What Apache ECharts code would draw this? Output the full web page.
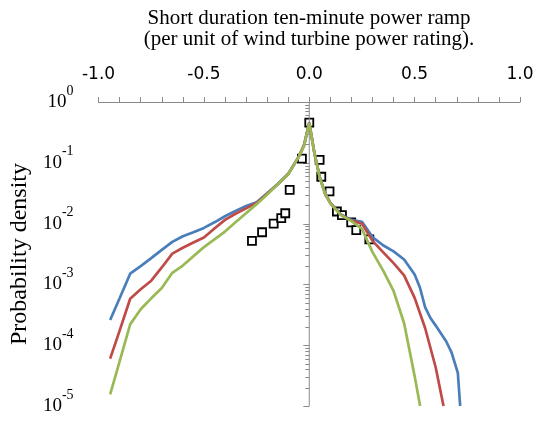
<!DOCTYPE html>
<html>
<head>
<meta charset="utf-8">
<script src="https://cdn.jsdelivr.net/npm/echarts@6/dist/echarts.min.js"></script>
<style>
html,body{margin:0;padding:0;background:#fff;}
#chart{width:538px;height:424px;}
</style>
</head>
<body>
<div id="chart"></div>
<script>
// ---- data ----
const titleLines = ['Short duration ten-minute power ramp', '(per unit of wind turbine power rating).'];
const yName = 'Probability density';

const blueX = [-0.945,-0.9,-0.85,-0.8,-0.75,-0.7,-0.65,-0.6,-0.55,-0.5,-0.45,-0.4,-0.35,-0.3,-0.25,-0.2,-0.15,-0.1,-0.05,-0.025,0,0.025,0.05,0.075,0.1,0.15,0.2,0.25,0.3,0.35,0.4,0.45,0.5,0.525,0.55,0.575,0.6,0.65,0.675,0.705,0.716];
const blueP = [2.6e-4,5.9e-4,1.5e-3,2.0e-3,2.7e-3,3.7e-3,5.0e-3,6.2e-3,7.2e-3,8.5e-3,1.05e-2,1.32e-2,1.62e-2,1.95e-2,2.24e-2,3.16e-2,4.47e-2,6.6e-2,0.126,0.195,0.457,0.141,0.0575,0.0316,0.0219,0.0141,0.0115,0.0107,6.0e-3,4.4e-3,3.5e-3,2.57e-3,1.45e-3,8.9e-4,4.2e-4,2.8e-4,2.1e-4,1.15e-4,7.6e-5,3.5e-5,1.0e-5];

const redX = [-0.945,-0.9,-0.85,-0.8,-0.75,-0.7,-0.65,-0.6,-0.55,-0.5,-0.45,-0.4,-0.35,-0.3,-0.25,-0.2,-0.15,-0.1,-0.05,-0.025,0,0.025,0.05,0.075,0.1,0.15,0.2,0.25,0.3,0.35,0.4,0.45,0.5,0.55,0.6,0.637];
const redP = [6.0e-5,1.74e-4,5.8e-4,8.3e-4,1.15e-3,1.9e-3,3.2e-3,4.0e-3,4.9e-3,5.9e-3,8.3e-3,1.15e-2,1.45e-2,1.78e-2,2.19e-2,3.1e-2,4.4e-2,6.5e-2,0.125,0.193,0.455,0.14,0.057,0.031,0.0216,0.0139,0.0112,0.0100,5.2e-3,3.4e-3,2.24e-3,1.41e-3,6.0e-4,1.9e-4,4.3e-5,1.0e-5];

const greenX = [-0.945,-0.9,-0.85,-0.8,-0.75,-0.7,-0.65,-0.6,-0.55,-0.5,-0.45,-0.4,-0.35,-0.3,-0.25,-0.2,-0.15,-0.1,-0.05,-0.025,0,0.025,0.05,0.075,0.1,0.15,0.2,0.25,0.3,0.35,0.4,0.45,0.5,0.526];
const greenP = [1.55e-5,5.4e-5,2.2e-4,3.9e-4,5.9e-4,8.7e-4,1.55e-3,2.04e-3,2.9e-3,4.1e-3,5.5e-3,7.4e-3,1.05e-2,1.48e-2,2.09e-2,3.0e-2,4.4e-2,6.5e-2,0.125,0.19,0.45,0.14,0.057,0.031,0.0215,0.0138,0.011,8.2e-3,3.4e-3,1.7e-3,7.8e-4,2.3e-4,3.1e-5,1.0e-5];

const squareX = [-0.272,-0.224,-0.169,-0.133,-0.114,-0.093,-0.035,0,0.049,0.057,0.096,0.131,0.155,0.199,0.223,0.285];
const squareP = [5.2e-3,7.2e-3,1.0e-2,1.23e-2,1.48e-2,3.6e-2,0.117,0.457,0.112,0.059,0.034,0.0158,0.0138,0.0105,7.8e-3,5.5e-3];

// vertical axis (crossing at x = 0) tick positions
const decades = [1e-5,1e-4,1e-3,1e-2,1e-1,1];
const minorFactors = [2,3,4,5,6,7,8,9];

// ---- build ----
const pairs = (xs, ys) => xs.map((x, i) => [x, ys[i]]);
const axisGray = '#8a8a8a';
const tickData = [];
decades.forEach(d => {
  tickData.push([0, d, 6]);
  if (d < 1) minorFactors.forEach(f => tickData.push([0, f * d, 4]));
});
const supMap = v => {
  const e = Math.round(Math.log10(v));
  return '{b|10}{e|' + (e < 0 ? '-' + (-e) : String(e)) + '}';
};

const chart = echarts.init(document.getElementById('chart'), null, {renderer: 'canvas'});
chart.setOption({
  animation: false,
  backgroundColor: '#ffffff',
  graphic: [{
    type: 'text', x: 309, y: 8,
    style: {
      text: titleLines.join('\n'),
      textAlign: 'center', textVerticalAlign: 'top',
      fontFamily: '"Liberation Serif", serif', fontSize: 21, lineHeight: 21,
      fill: '#000'
    }
  }],
  grid: {left: 98, right: 18, top: 102, bottom: 9, containLabel: false},
  xAxis: {
    type: 'value', position: 'top', min: -1, max: 1, interval: 0.5,
    axisLine: {onZero: false, lineStyle: {color: axisGray, width: 1}},
    axisTick: {show: true, inside: false, length: 5, lineStyle: {color: axisGray}},
    minorTick: {show: true, splitNumber: 5, length: 5, lineStyle: {color: axisGray}},
    splitLine: {show: false},
    axisLabel: {
      margin: 19, color: '#000', fontFamily: '"DejaVu Sans", sans-serif', fontSize: 17,
      formatter: v => v.toFixed(1)
    }
  },
  yAxis: {
    type: 'log', logBase: 10, min: 1e-5, max: 1,
    axisLine: {show: false}, axisTick: {show: false}, splitLine: {show: false},
    axisLabel: {
      margin: 25, color: '#000',
      formatter: supMap,
      rich: {
        b: {fontFamily: '"Liberation Serif", serif', fontSize: 19, lineHeight: 19, verticalAlign: 'middle', color: '#000'},
        e: {fontFamily: '"Liberation Serif", serif', fontSize: 14, lineHeight: 14, padding: [0, 0, 22, 0], verticalAlign: 'middle', color: '#000'}
      }
    },
    name: yName, nameLocation: 'middle', nameRotate: 90, nameGap: 63,
    nameTextStyle: {fontFamily: '"Liberation Serif", serif', fontSize: 24, color: '#000'}
  },
  series: [
    {
      type: 'line', data: [[0, 1e-5], [0, 1]], symbol: 'none', silent: true,
      lineStyle: {color: axisGray, width: 1}
    },
    {
      type: 'custom', data: tickData, encode: {x: 0, y: 1}, silent: true,
      renderItem: (params, api) => {
        const p = api.coord([api.value(0), api.value(1)]);
        const len = api.value(2);
        const y = Math.round(p[1]) + 0.5;
        return {type: 'line', shape: {x1: p[0] - len, y1: y, x2: p[0], y2: y},
          style: {stroke: axisGray, lineWidth: 1}};
      }
    },
    {type: 'line', data: pairs(blueX, blueP), symbol: 'none', lineStyle: {color: '#4a7ebb', width: 2.7}},
    {type: 'line', data: pairs(redX, redP), symbol: 'none', lineStyle: {color: '#be4b48', width: 2.7}},
    {type: 'line', data: pairs(greenX, greenP), symbol: 'none', lineStyle: {color: '#98b954', width: 2.7}},
    {
      type: 'scatter', data: pairs(squareX, squareP), symbol: 'rect', symbolSize: 8,
      itemStyle: {color: '#ffffff', borderColor: '#000000', borderWidth: 1.8, opacity: 1}
    }
  ]
});
</script>
</body>
</html>
